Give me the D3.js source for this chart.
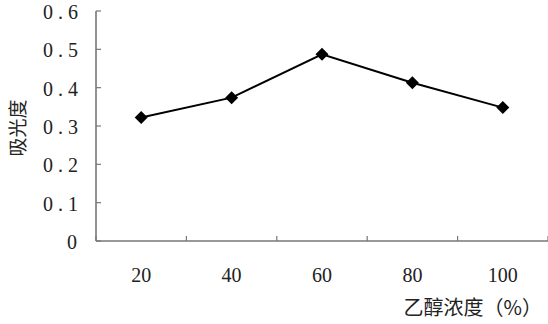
<!DOCTYPE html>
<html lang="zh">
<head>
<meta charset="UTF-8">
<title>吸光度 - 乙醇浓度</title>
<script src="https://d3js.org/d3.v7.min.js"></script>
<style>
  body { margin: 0; background: #fff; }
  .num { font-family: "Liberation Serif", "Times New Roman", serif; font-size: 20px; fill: #222; }
  .cjk { font-family: "Noto Sans CJK SC", sans-serif; font-size: 19px; fill: #222; }
</style>
</head>
<body>
<div id="chart"></div>
<script>
// 数据
const categories = ["20", "40", "60", "80", "100"];
const absorbance = [0.322, 0.374, 0.487, 0.413, 0.348];
const yTicks = [0, 0.1, 0.2, 0.3, 0.4, 0.5, 0.6];
const xTitle = "乙醇浓度（%）";
const yTitle = "吸光度";

const W = 548, H = 324;
const mLeft = 96, mRight = 548, mTop = 11, mBottom = 241;

const svg = d3.select("#chart").append("svg")
  .attr("width", W).attr("height", H);

const x = d3.scaleBand().domain(categories).range([mLeft, mRight]);
const y = d3.scaleLinear().domain([0, 0.6]).range([mBottom, mTop]);

const axisColor = "#777";

// y 轴
const yAxis = svg.append("g");
yAxis.append("line")
  .attr("x1", mLeft).attr("x2", mLeft)
  .attr("y1", y(0.6)).attr("y2", y(0))
  .attr("stroke", axisColor).attr("stroke-width", 1.6);
yAxis.selectAll(".yt").data(yTicks).enter().append("line")
  .attr("x1", mLeft).attr("x2", mLeft + 5)
  .attr("y1", d => y(d)).attr("y2", d => y(d))
  .attr("stroke", axisColor).attr("stroke-width", 1.2);
yAxis.selectAll(".yl").data(yTicks).enter().append("text")
  .attr("class", "num")
  .attr("x", 83)
  .attr("y", d => y(d) + 8)
  .attr("text-anchor", "end")
  .attr("letter-spacing", d => d === 0 ? 0 : 5)
  .attr("dx", d => d === 0 ? -6 : 0)
  .text(d => d === 0 ? "0" : d.toFixed(1));

// x 轴
const xAxis = svg.append("g");
xAxis.append("line")
  .attr("x1", mLeft).attr("x2", mRight)
  .attr("y1", mBottom).attr("y2", mBottom)
  .attr("stroke", axisColor).attr("stroke-width", 1.6);
const bounds = categories.map(c => x(c)).concat([mRight]);
xAxis.selectAll(".xt").data(bounds).enter().append("line")
  .attr("x1", d => d).attr("x2", d => d)
  .attr("y1", mBottom).attr("y2", mBottom - 5)
  .attr("stroke", axisColor).attr("stroke-width", 1.2);
xAxis.selectAll(".xl").data(categories).enter().append("text")
  .attr("class", "num")
  .attr("x", d => x(d) + x.bandwidth() / 2)
  .attr("y", 282)
  .attr("text-anchor", "middle")
  .text(d => d);

// 标题
svg.append("text").attr("class", "cjk")
  .attr("x", 542).attr("y", 315)
  .attr("text-anchor", "end")
  .style("font-size", "20px")
  .text(xTitle);
svg.append("text").attr("class", "cjk")
  .attr("transform", "translate(25,128) rotate(-90)")
  .attr("text-anchor", "middle")
  .text(yTitle);

// 折线
const pts = categories.map((c, i) => [x(c) + x.bandwidth() / 2, y(absorbance[i])]);
svg.append("path")
  .attr("d", d3.line()(pts))
  .attr("fill", "none")
  .attr("stroke", "#000")
  .attr("stroke-width", 2);

// 菱形标记
const r = 6.5;
svg.selectAll(".mk").data(pts).enter().append("path")
  .attr("transform", d => `translate(${d[0]},${d[1]})`)
  .attr("d", `M0,${-r}L${r},0L0,${r}L${-r},0Z`)
  .attr("fill", "#000");
</script>
</body>
</html>
